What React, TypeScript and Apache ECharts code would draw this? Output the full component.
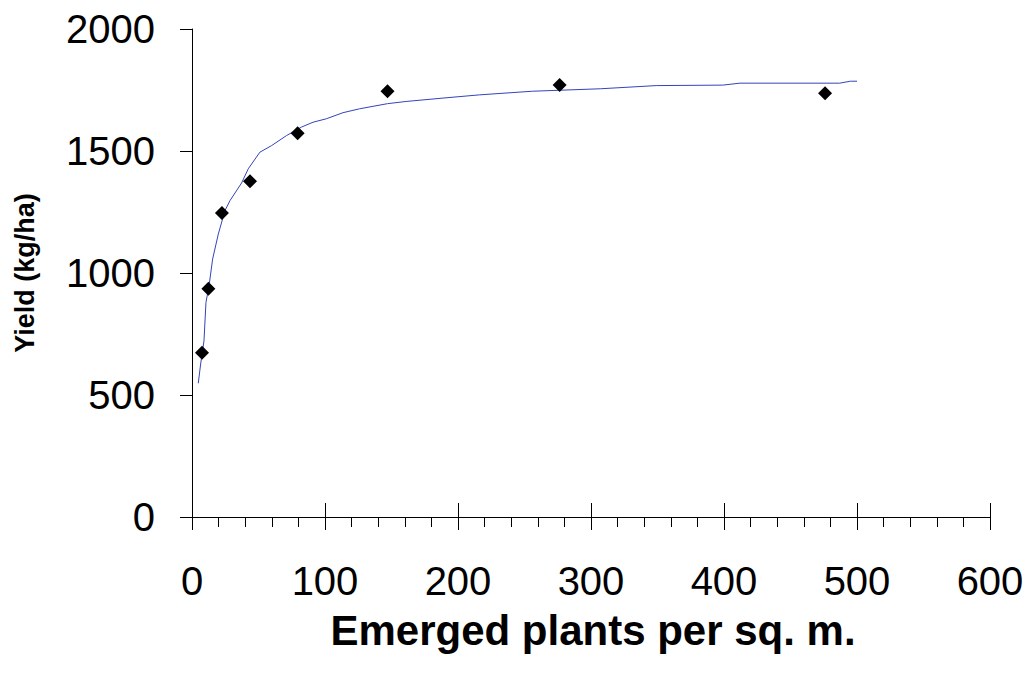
import React, { useEffect, useRef } from "react";
import * as echarts from "echarts";

const pointX = [7.5, 12.3, 22.5, 43.6, 79.4, 147, 276.4, 476];
const pointY = [673, 935, 1246, 1376, 1573, 1745, 1771, 1737];

const curveX = [4.7, 6.5, 9, 10.5, 13, 15.5, 19.8, 24.8, 28.6, 37.3, 42.3, 51, 59.8, 71, 82.3, 91, 101, 113.5, 126, 147, 161, 191, 216, 256, 307, 349, 399, 412, 487, 495, 500];
const curveY = [548, 627, 722, 879, 955, 1057, 1160, 1256, 1297, 1369, 1427, 1495, 1522, 1563, 1598, 1618, 1632, 1657, 1673, 1694, 1703, 1718, 1730, 1745, 1755, 1768, 1770, 1778, 1778, 1786, 1786];

const xTitle = "Emerged plants per sq. m.";
const yTitle = "Yield (kg/ha)";

export default function App() {
  const ref = useRef<HTMLDivElement>(null);
  useEffect(() => {
    if (!ref.current) return;
    const chart = echarts.init(ref.current, null, { renderer: "svg" });
    const font = "'Liberation Sans', Arial, sans-serif";
    chart.setOption({
      animation: false,
      backgroundColor: "#ffffff",
      grid: { left: 192, right: 37, top: 29, bottom: 164, containLabel: false },
      xAxis: [
        {
          type: "value",
          min: 0,
          max: 600,
          interval: 100,
          axisLine: { show: true, onZero: false, lineStyle: { color: "#000", width: 1 } },
          axisTick: { show: true, inside: false, length: 13, lineStyle: { color: "#000", width: 1 } },
          minorTick: { show: true, splitNumber: 5, length: 10, lineStyle: { color: "#000", width: 1 } },
          splitLine: { show: false },
          axisLabel: {
            show: true,
            margin: 44,
            fontSize: 40,
            color: "#000",
            fontFamily: font,
            formatter: (v: number) => String(v),
          },
        },
        {
          type: "value",
          min: 0,
          max: 600,
          interval: 100,
          position: "bottom",
          axisLine: { show: false },
          axisTick: { show: true, inside: true, length: 14, lineStyle: { color: "#000", width: 1 } },
          splitLine: { show: false },
          axisLabel: { show: false },
        },
      ],
      yAxis: {
        type: "value",
        min: 0,
        max: 2000,
        interval: 500,
        axisLine: { show: true, onZero: false, lineStyle: { color: "#000", width: 1 } },
        axisTick: { show: true, inside: false, length: 12, lineStyle: { color: "#000", width: 1 } },
        splitLine: { show: false },
        axisLabel: {
          show: true,
          margin: 37,
          fontSize: 40,
          color: "#000",
          fontFamily: font,
          formatter: (v: number) => String(v),
        },
      },
      graphic: [
        {
          type: "text",
          x: 593,
          y: 630,
          style: {
            text: xTitle,
            fontSize: 42,
            fontWeight: "bold",
            fontFamily: font,
            fill: "#000",
            align: "center",
            verticalAlign: "middle",
          },
        },
        {
          type: "text",
          x: 25,
          y: 273,
          rotation: Math.PI / 2,
          style: {
            text: yTitle,
            fontSize: 27,
            fontWeight: "bold",
            fontFamily: font,
            fill: "#000",
            align: "center",
            verticalAlign: "middle",
          },
        },
      ],
      series: [
        {
          type: "line",
          xAxisIndex: 0,
          data: curveX.map((x, i) => [x, curveY[i]]),
          showSymbol: false,
          symbol: "none",
          smooth: false,
          lineStyle: { color: "#3344BB", width: 1 },
          z: 2,
        },
        {
          type: "scatter",
          xAxisIndex: 0,
          data: pointX.map((x, i) => [x, pointY[i]]),
          symbol: "diamond",
          symbolSize: 14,
          itemStyle: { color: "#000", opacity: 1 },
          z: 3,
        },
      ],
    });
    return () => chart.dispose();
  }, []);
  return (
    <div
      ref={ref}
      style={{ position: "absolute", left: 0, top: 0, width: 1027, height: 681 }}
    />
  );
}
